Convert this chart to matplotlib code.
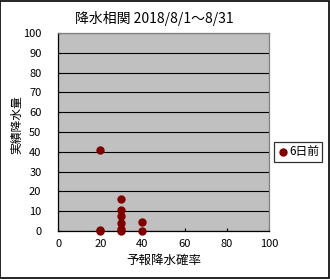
import matplotlib
matplotlib.use('Agg')
import matplotlib.pyplot as plt
from matplotlib.patches import Rectangle

plt.rcParams['font.family'] = ['Noto Sans CJK JP', 'DejaVu Sans']

# 予報降水確率 (%) と 実績降水量 (mm)
forecast_pct = [20, 20, 20, 30, 30, 30, 30, 30, 30, 40, 40]
actual_mm = [41, 0.5, 0, 16, 10.5, 7.5, 4, 1, 0, 4.5, 0]
series_name = '6日前'
x_ticks = [0, 20, 40, 60, 80, 100]
y_ticks = list(range(0, 101, 10))

fig = plt.figure(figsize=(3.30, 2.79), dpi=100)
ax = fig.add_axes([0.176, 0.172, 0.639, 0.710])

ax.set_facecolor('#C0C0C0')
for y in y_ticks:
    ax.axhline(y, color='black', linewidth=0.8, zorder=1)

ax.scatter(forecast_pct, actual_mm, s=25, color='#800000', zorder=3,
           clip_on=False, label=series_name)

ax.set_xlim(0, 100)
ax.set_ylim(0, 100)
ax.set_xticks(x_ticks)
ax.set_yticks(y_ticks)
ax.tick_params(direction='in', length=2.5, labelsize=8, width=0.8,
               colors='black', pad=12)
ax.tick_params(axis='x', pad=6)

for side in ['top', 'right']:
    ax.spines[side].set_color('#808080')
for side in ['left', 'bottom']:
    ax.spines[side].set_color('black')
for s in ax.spines.values():
    s.set_linewidth(0.9)

ax.set_xlabel('予報降水確率', fontsize=9, labelpad=3)
ax.set_ylabel('実績降水量', fontsize=8.5)
ax.yaxis.set_label_coords(-0.165, 0.535)

fig.text(0.467, 0.935, '降水相関 2018/8/1～8/31', fontsize=10,
         ha='center', va='center')

leg = ax.legend(loc='center left', bbox_to_anchor=(1.005, 0.40),
                frameon=True, fancybox=False, fontsize=8.5,
                handletextpad=0.0, handlelength=1.0, borderpad=0.3,
                borderaxespad=0.3)
leg.get_frame().set_edgecolor('black')
leg.get_frame().set_linewidth(0.9)

fig.patches.append(Rectangle((0.0015, 0.002), 0.996, 0.995, transform=fig.transFigure,
                             fill=False, edgecolor='black', linewidth=1.2))

plt.savefig('out.png', dpi=100)
